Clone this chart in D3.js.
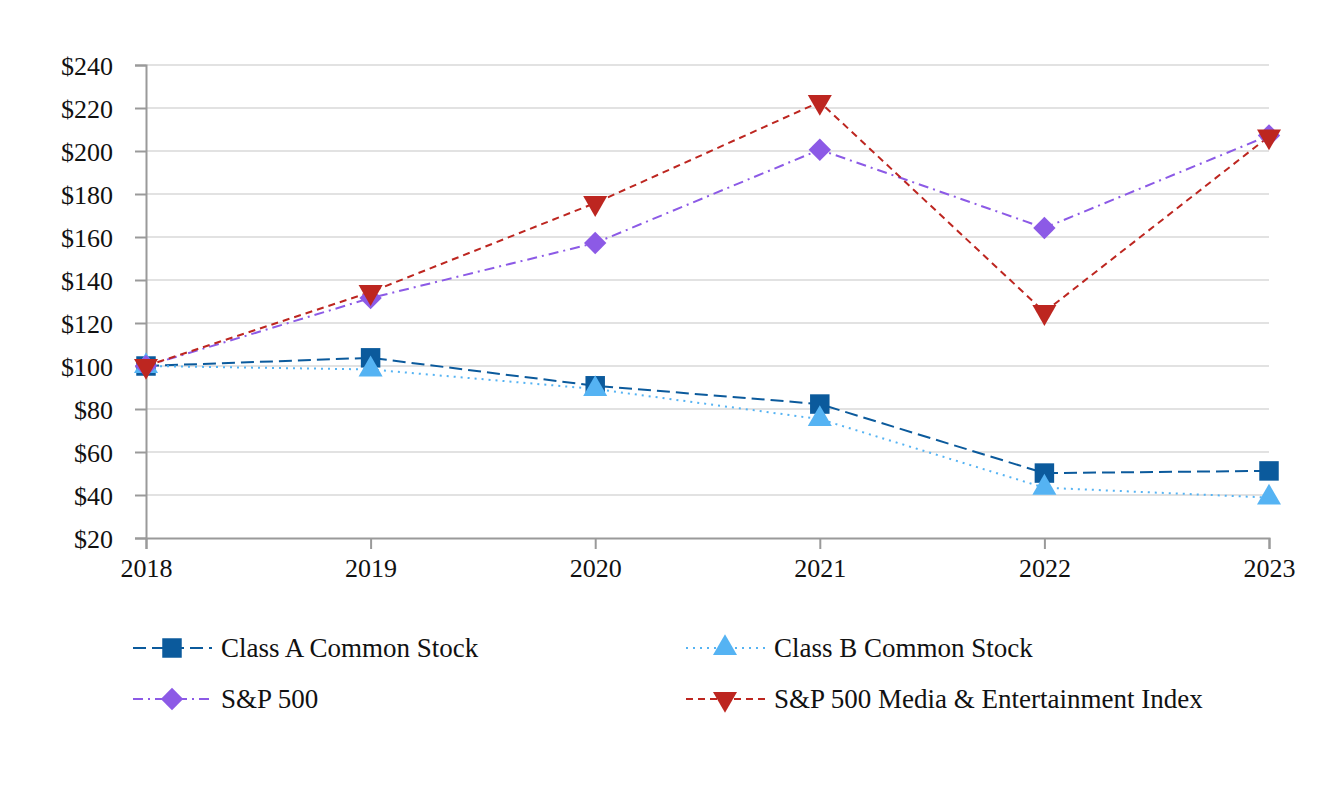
<!DOCTYPE html>
<html lang="en">
<head>
<meta charset="utf-8">
<title>Cumulative total return</title>
<script src="https://d3js.org/d3.v7.min.js"></script>
<style>
  body { margin: 0; background: #fff; }
  text { font-family: "Liberation Serif", "Times New Roman", serif; fill: #111; }
</style>
</head>
<body>
<svg id="chart" width="1332" height="800"></svg>
<script>
// data
var years = [2018, 2019, 2020, 2021, 2022, 2023];
var classA = [100, 103.8, 90.8, 82.3, 50.2, 51.2];
var classB = [100, 98.4, 89.3, 75.3, 43.4, 38.8];
var sp500 = [100, 131.6, 157.2, 200.6, 164.2, 207.2];
var media = [100, 134.4, 175.8, 222.8, 125.1, 206.8];
var yTicks = [20, 40, 60, 80, 100, 120, 140, 160, 180, 200, 220, 240];

var series = [
  { name: 'Class A Common Stock', values: classA, color: '#0b5a9c', dash: '13,6', marker: 'square' },
  { name: 'Class B Common Stock', values: classB, color: '#55b3f3', dash: '2,5', marker: 'triangle' },
  { name: 'S&P 500', values: sp500, color: '#8c5ae6', dash: '10,5,2,5', marker: 'diamond' },
  { name: 'S&P 500 Media & Entertainment Index', values: media, color: '#bd2620', dash: '7,5', marker: 'triangleDown' }
];

var svg = d3.select('#chart');

var x = d3.scaleLinear().domain([2018, 2023]).range([146, 1269]);
var y = d3.scaleLinear().domain([20, 240]).range([538, 65]);

// gridlines
svg.append('g')
  .selectAll('line')
  .data(yTicks.slice(1))
  .enter()
  .append('line')
  .attr('x1', 146)
  .attr('x2', 1269)
  .attr('y1', function(d) { return y(d); })
  .attr('y2', function(d) { return y(d); })
  .style('stroke', '#e2e2e2')
  .style('stroke-width', 2);

// axes
var yAxis = d3.axisLeft(y)
  .tickValues(yTicks)
  .tickSize(11)
  .tickPadding(22)
  .tickFormat(function(d) { return '$' + d; });

var xAxis = d3.axisBottom(x)
  .tickValues(years)
  .tickSize(11)
  .tickPadding(10)
  .tickFormat(d3.format('d'));

var gy = svg.append('g').attr('transform', 'translate(146,0)').call(yAxis);
var gx = svg.append('g').attr('transform', 'translate(0,538)').call(xAxis);

[gy, gx].forEach(function(g) {
  g.attr('font-family', null).attr('font-size', null);
  g.select('.domain').style('stroke', '#9a9a9a').style('stroke-width', 2);
  g.selectAll('.tick line').style('stroke', '#9a9a9a').style('stroke-width', 2);
  g.selectAll('.tick text')
    .style('font-family', '"Liberation Serif", serif')
    .style('font-size', '26px')
    .style('fill', '#111');
});
gy.selectAll('.tick text').attr('dy', '0.35em');

var symbols = {
  square: d3.symbol().type(d3.symbolSquare).size(380),
  triangle: d3.symbol().type(d3.symbolTriangle).size(250),
  diamond: d3.symbol().type(d3.symbolSquare).size(250),
  triangleDown: d3.symbol().type(d3.symbolTriangle).size(250)
};

function drawMarker(g, s, cx, cy) {
  var p = g.append('path')
    .attr('d', symbols[s.marker]())
    .style('fill', s.color);
  var rot = s.marker === 'triangleDown' ? 180 : (s.marker === 'diamond' ? 45 : 0);
  p.attr('transform', 'translate(' + cx + ',' + cy + ') rotate(' + rot + ')');
}

var line = d3.line()
  .x(function(d, i) { return x(years[i]); })
  .y(function(d) { return y(d); });

var plot = svg.append('g');

series.forEach(function(s) {
  plot.append('path')
    .datum(s.values)
    .attr('d', line)
    .style('fill', 'none')
    .style('stroke', s.color)
    .style('stroke-width', 2)
    .style('stroke-dasharray', s.dash);
});

series.forEach(function(s) {
  s.values.forEach(function(v, i) {
    drawMarker(plot, s, x(years[i]), y(v));
  });
});

// legend
var legendPos = [
  { x: 133, y: 648 },
  { x: 686, y: 648 },
  { x: 133, y: 699 },
  { x: 686, y: 699 }
];

series.forEach(function(s, i) {
  var p = legendPos[i];
  var g = svg.append('g');
  g.append('line')
    .attr('x1', p.x)
    .attr('x2', p.x + 79)
    .attr('y1', p.y)
    .attr('y2', p.y)
    .style('stroke', s.color)
    .style('stroke-width', 2)
    .style('stroke-dasharray', s.dash);
  drawMarker(g, s, p.x + 39, p.y);
  g.append('text')
    .attr('x', p.x + 88)
    .attr('y', p.y + 9)
    .style('font-size', '27px')
    .text(s.name);
});
</script>
</body>
</html>
